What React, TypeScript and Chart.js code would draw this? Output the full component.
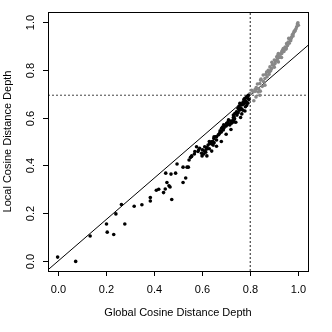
import React, { useEffect, useRef } from "react";
import { Chart, registerables } from "chart.js";

Chart.register(...registerables);

// Black points (x = global depth, y = local depth), below the cut
const blackX = [
  0.0, 0.075, 0.135, 0.203, 0.206, 0.233, 0.242, 0.265, 0.279, 0.318, 0.35, 0.385, 0.385, 0.41, 0.42,
  0.44, 0.447, 0.454, 0.4625, 0.467, 0.474, 0.449, 0.471, 0.49, 0.496, 0.521, 0.532, 0.521, 0.5375, 0.543,
  0.546, 0.552, 0.557, 0.568, 0.577, 0.586, 0.556, 0.57, 0.583, 0.59, 0.598, 0.602, 0.607, 0.611, 0.618,
  0.625, 0.632, 0.639, 0.646, 0.649, 0.657, 0.66, 0.667, 0.674, 0.681, 0.688, 0.695, 0.702, 0.708, 0.715,
  0.722, 0.729, 0.733, 0.736, 0.743, 0.75, 0.754, 0.757, 0.764, 0.771, 0.774, 0.778, 0.785, 0.792, 0.6,
  0.61, 0.615, 0.62, 0.63, 0.64, 0.645, 0.65, 0.66, 0.67, 0.675, 0.68, 0.685, 0.69, 0.7, 0.705,
  0.71, 0.72, 0.725, 0.73, 0.735, 0.745, 0.75, 0.755, 0.76, 0.765, 0.77, 0.775, 0.78, 0.785, 0.79,
  0.795, 0.78, 0.77, 0.79, 0.778, 0.74, 0.733, 0.62, 0.64, 0.66, 0.68, 0.7, 0.72, 0.74, 0.76,
  0.63, 0.65, 0.69, 0.71, 0.73, 0.75, 0.77, 0.79, 0.765, 0.785,
];
const blackY = [
  0.018, 0.0, 0.106, 0.156, 0.122, 0.112, 0.198, 0.237, 0.156, 0.23, 0.236, 0.266, 0.252, 0.297, 0.301,
  0.287, 0.302, 0.329, 0.315, 0.31, 0.258, 0.368, 0.364, 0.368, 0.406, 0.329, 0.348, 0.393, 0.393, 0.393,
  0.423, 0.434, 0.44, 0.448, 0.478, 0.465, 0.437, 0.458, 0.458, 0.472, 0.451, 0.465, 0.448, 0.478, 0.468,
  0.485, 0.492, 0.499, 0.485, 0.513, 0.52, 0.506, 0.527, 0.537, 0.555, 0.548, 0.564, 0.576, 0.582, 0.569,
  0.576, 0.589, 0.603, 0.617, 0.624, 0.638, 0.648, 0.659, 0.652, 0.666, 0.676, 0.68, 0.686, 0.693, 0.44,
  0.46, 0.455, 0.475, 0.47, 0.49, 0.5, 0.495, 0.52, 0.53, 0.545, 0.54, 0.56, 0.555, 0.565, 0.57,
  0.575, 0.585, 0.58, 0.6, 0.595, 0.61, 0.62, 0.63, 0.64, 0.635, 0.655, 0.66, 0.67, 0.665, 0.68,
  0.675, 0.645, 0.63, 0.69, 0.627, 0.617, 0.582, 0.44, 0.46, 0.48, 0.5, 0.53, 0.55, 0.58, 0.6,
  0.5, 0.52, 0.57, 0.59, 0.61, 0.64, 0.66, 0.66, 0.615, 0.65,
];

// Gray points, beyond the cut
const grayX = [
  0.799, 0.806, 0.8125, 0.815, 0.82, 0.821, 0.824, 0.833, 0.84, 0.842, 0.84, 0.843, 0.85, 0.854, 0.861,
  0.861, 0.868, 0.87, 0.875, 0.878, 0.882, 0.885, 0.889, 0.892, 0.896, 0.9, 0.903, 0.906, 0.91, 0.91,
  0.913, 0.917, 0.917, 0.92, 0.924, 0.927, 0.931, 0.931, 0.934, 0.9375, 0.94, 0.945, 0.948, 0.951, 0.955,
  0.958, 0.962, 0.965, 0.968, 0.972, 0.975, 0.979, 0.982, 0.986, 0.99, 0.993, 0.996, 1.0, 0.998, 0.978,
  0.83, 0.845, 0.855, 0.865, 0.88, 0.89, 0.9, 0.915, 0.93, 0.95, 0.96, 0.97, 0.985, 0.825, 0.835,
];
const grayY = [
  0.7, 0.714, 0.707, 0.67, 0.717, 0.71, 0.686, 0.707, 0.693, 0.71, 0.742, 0.756, 0.73, 0.777, 0.763,
  0.735, 0.79, 0.77, 0.797, 0.78, 0.811, 0.795, 0.804, 0.82, 0.818, 0.81, 0.825, 0.835, 0.839, 0.853,
  0.845, 0.832, 0.867, 0.85, 0.853, 0.865, 0.867, 0.874, 0.88, 0.888, 0.875, 0.894, 0.885, 0.908, 0.9,
  0.915, 0.91, 0.929, 0.92, 0.936, 0.945, 0.95, 0.958, 0.964, 0.97, 0.978, 0.99, 0.985, 0.995, 0.94,
  0.74, 0.76, 0.75, 0.78, 0.79, 0.83, 0.84, 0.86, 0.85, 0.89, 0.93, 0.93, 0.96, 0.725, 0.72,
];

// Reference line end points and cut lines
const refLineX = [-0.04, 1.04];
const refLineY = [-0.035, 0.901];
const xCut = 0.8;
const yCut = 0.693;
const axisMin = -0.04;
const axisMax = 1.04;
const tickValues = [0, 0.2, 0.4, 0.6, 0.8, 1.0];
const tickLabels = ["0.0", "0.2", "0.4", "0.6", "0.8", "1.0"];
const xTitle = "Global Cosine Distance Depth";
const yTitle = "Local Cosine Distance Depth";

const FONT = "11px 'Liberation Sans', Arial, sans-serif";

const toPts = (xs: number[], ys: number[]) => xs.map((x, i) => ({ x, y: ys[i] }));

const axesPlugin = {
  id: "rAxes",
  afterDraw(chart: any) {
    const { ctx, chartArea: a, scales } = chart;
    const xs = scales.x;
    const ys = scales.y;
    ctx.save();
    ctx.strokeStyle = "#000";
    ctx.lineWidth = 1;
    ctx.strokeRect(Math.round(a.left) + 0.5, Math.round(a.top) + 0.5, Math.round(a.right - a.left), Math.round(a.bottom - a.top));
    ctx.fillStyle = "#000";
    ctx.font = FONT;
    ctx.textAlign = "center";
    ctx.textBaseline = "middle";
    tickValues.forEach((v, i) => {
      const px = Math.round(xs.getPixelForValue(v)) + 0.5;
      ctx.beginPath();
      ctx.moveTo(px, a.bottom);
      ctx.lineTo(px, a.bottom + 5);
      ctx.stroke();
      ctx.fillText(tickLabels[i], px, a.bottom + 19);
    });
    tickValues.forEach((v, i) => {
      const py = Math.round(ys.getPixelForValue(v)) + 0.5;
      ctx.beginPath();
      ctx.moveTo(a.left, py);
      ctx.lineTo(a.left - 5, py);
      ctx.stroke();
      ctx.save();
      ctx.translate(a.left - 17, py);
      ctx.rotate(-Math.PI / 2);
      ctx.fillText(tickLabels[i], 0, 0);
      ctx.restore();
    });
    ctx.fillText(xTitle, (a.left + a.right) / 2, a.bottom + 42);
    ctx.save();
    ctx.translate(8, (a.top + a.bottom) / 2);
    ctx.rotate(-Math.PI / 2);
    ctx.fillText(yTitle, 0, 0);
    ctx.restore();
    ctx.restore();
  },
};

export default function App() {
  const ref = useRef<HTMLCanvasElement | null>(null);
  useEffect(() => {
    if (!ref.current) return;
    const chart = new Chart(ref.current, {
      type: "scatter",
      data: {
        datasets: [
          {
            data: toPts(blackX, blackY),
            backgroundColor: "#000",
            borderColor: "#000",
            pointRadius: 1.8,
            borderWidth: 0,
          },
          {
            data: toPts(grayX, grayY),
            backgroundColor: "#888",
            borderColor: "#888",
            pointRadius: 1.8,
            borderWidth: 0,
          },
          {
            type: "line",
            data: toPts(refLineX, refLineY),
            borderColor: "#000",
            borderWidth: 1,
            pointRadius: 0,
            showLine: true,
          },
          {
            type: "line",
            data: [{ x: xCut, y: axisMin }, { x: xCut, y: axisMax }],
            borderColor: "#222",
            borderWidth: 1,
            borderDash: [2, 2],
            pointRadius: 0,
            showLine: true,
          },
          {
            type: "line",
            data: [{ x: axisMin, y: yCut }, { x: axisMax, y: yCut }],
            borderColor: "#444",
            borderWidth: 1,
            borderDash: [2, 2],
            pointRadius: 0,
            showLine: true,
          },
        ] as any,
      },
      options: {
        animation: false,
        responsive: false,
        layout: { padding: { left: 48, top: 12, right: 24, bottom: 61 } },
        plugins: { legend: { display: false }, tooltip: { enabled: false } },
        scales: {
          x: { type: "linear", min: axisMin, max: axisMax, display: false },
          y: { type: "linear", min: axisMin, max: axisMax, display: false },
        },
      },
      plugins: [axesPlugin],
    });
    return () => chart.destroy();
  }, []);
  return (
    <div style={{ position: "fixed", left: 0, top: 0, width: 332, height: 332, background: "#fff" }}>
      <canvas ref={ref} width={332} height={332} />
    </div>
  );
}
